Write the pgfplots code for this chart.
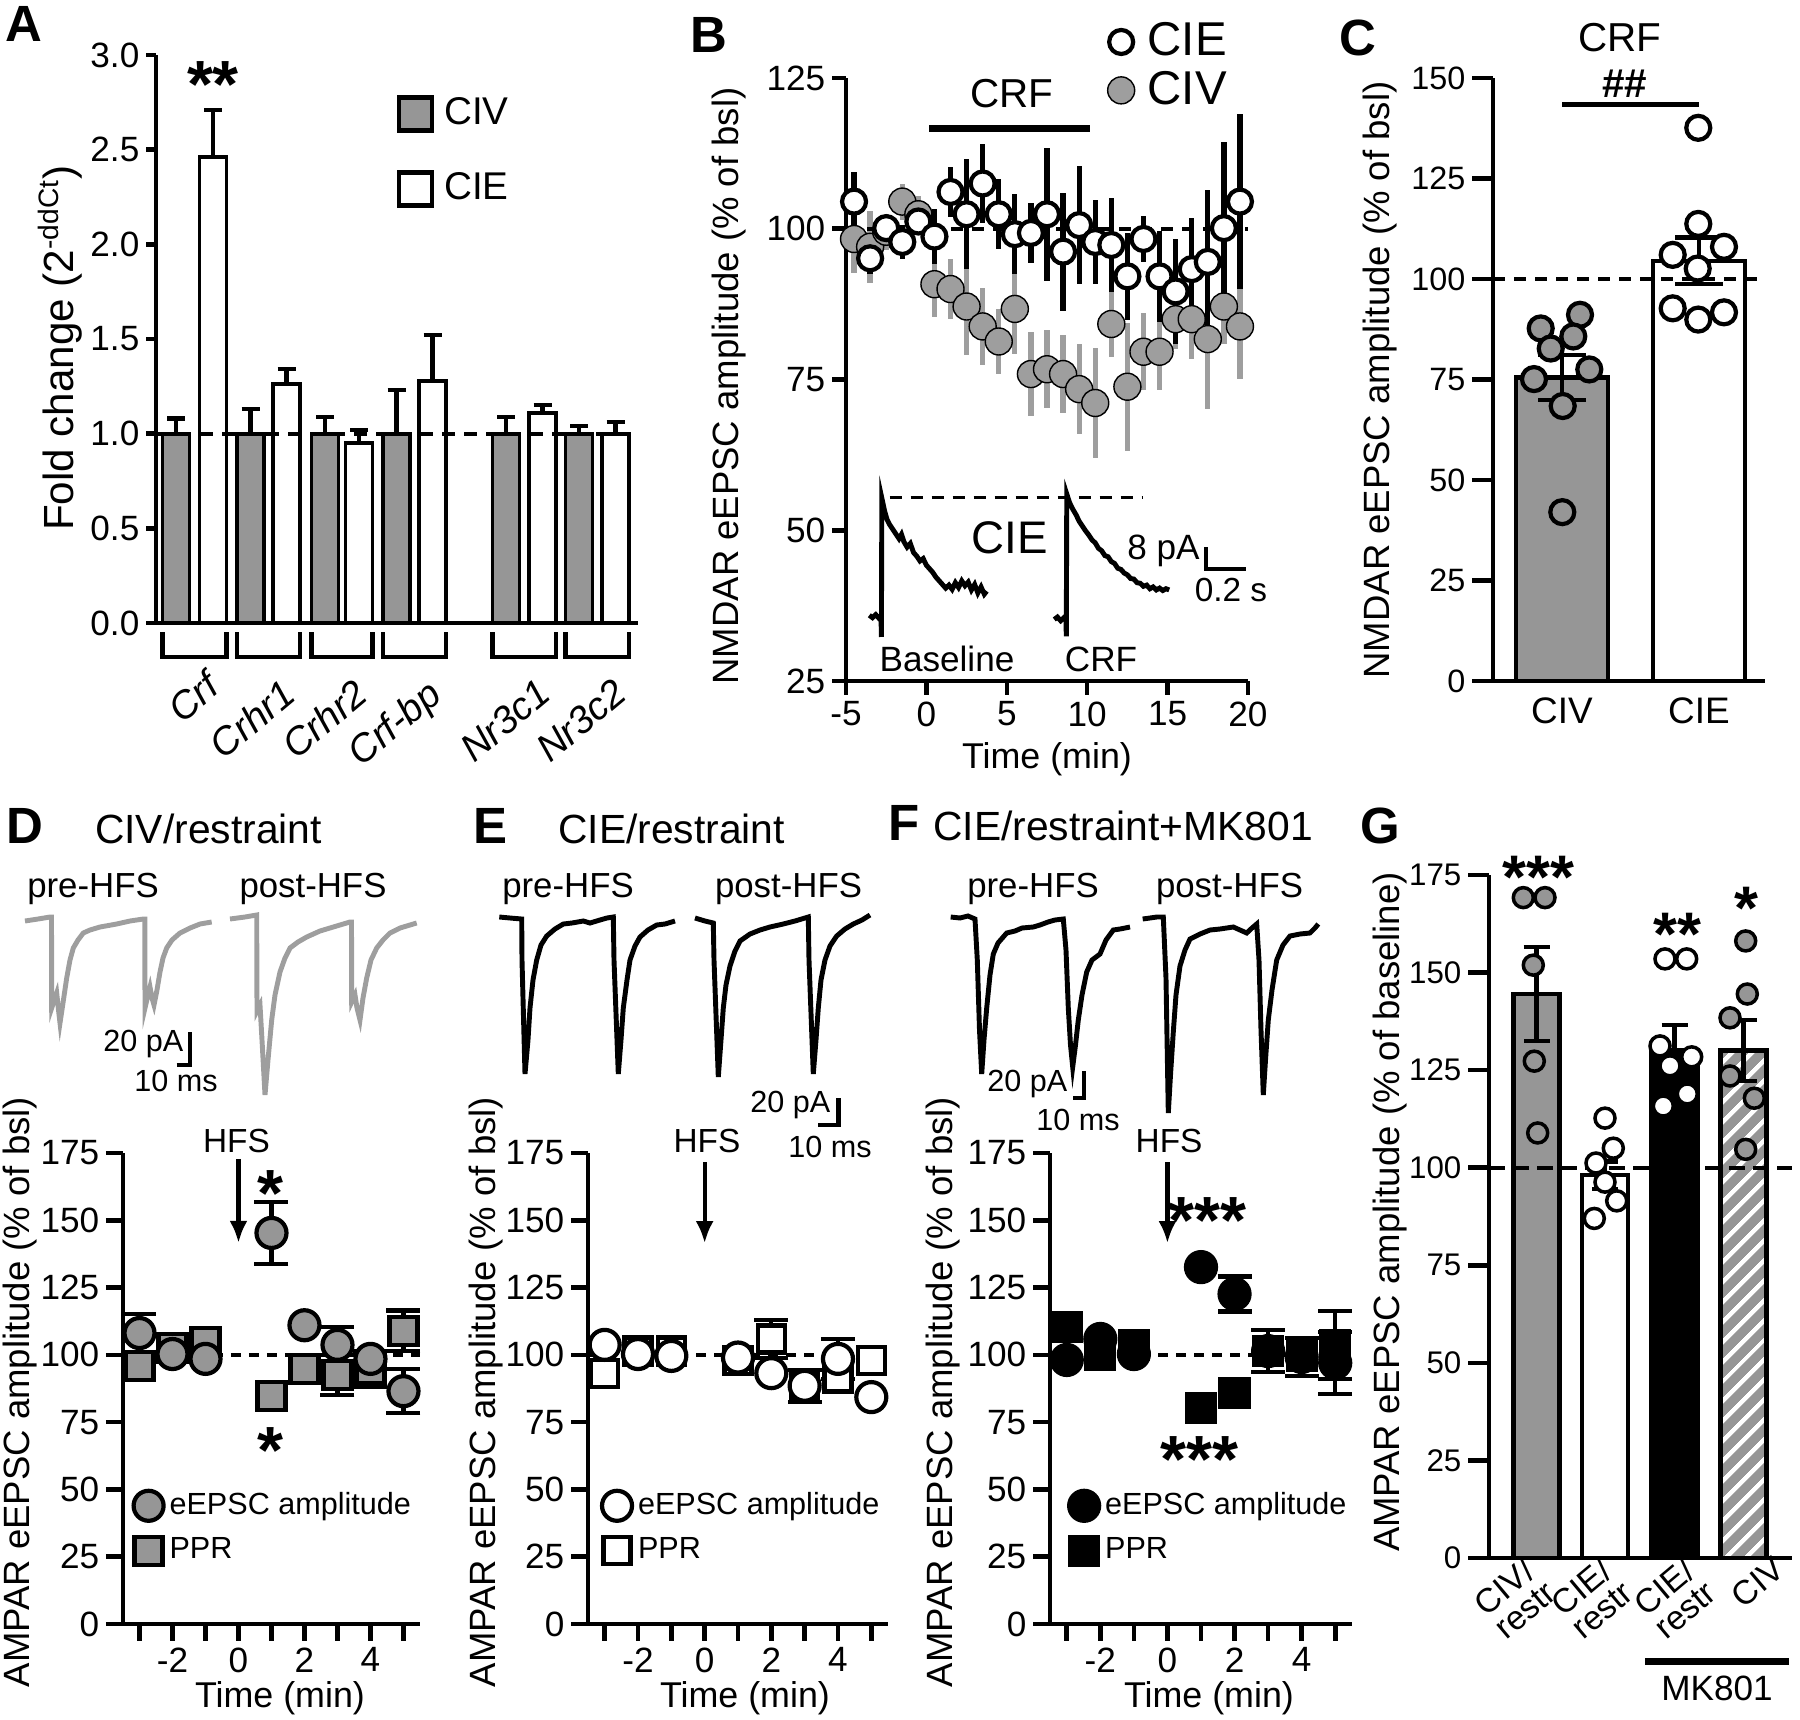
\documentclass[border=0pt]{standalone}
\usepackage{pgfplots}
\pgfplotsset{compat=1.18}
\usepackage{fontspec}
\setmainfont{Liberation Sans}
\usetikzlibrary{patterns.meta,arrows.meta}

\definecolor{bargray}{RGB}{150,150,150}
\definecolor{civgray}{RGB}{158,158,158}
\newcommand\fs[1]{\fontsize{#1}{#1}\selectfont}

\tikzset{star/.style={font=\bfseries\fs{19}, yshift=-4pt, inner sep=0pt}}
\pgfplotsset{
  panel/.style={
    scale only axis, clip=false, anchor=south west,
    axis lines*=left,
    axis line style={line width=1.3pt},
    tick style={black, line width=1.3pt},
    tick align=outside,
    major tick length=1.6mm,
    tick label style={font=\fs{10}, inner sep=0.6mm},
    /pgf/number format/assume math mode=true,
    legend cell align=left,
  },
  err/.style={draw=none, forget plot,
    error bars/y dir=both, error bars/y explicit,
    error bars/error bar style={draw=black, solid, line width=1.2pt},
    error bars/error mark options={rotate=90, draw=black, solid, line width=1.2pt, mark size=#1}},
  dotlegend/.style={legend image code/.code={\draw[##1] plot coordinates {(0cm,0cm)};}},
}

\begin{document}
\begin{tikzpicture}
\path[use as bounding box] (0,0) rectangle (18cm,17.2cm);

% ---------------- A: qPCR fold change
\begin{axis}[panel, at={(1.56cm,10.97cm)}, width=4.82cm, height=5.68cm,
  xmin=156, xmax=638, ymin=0, ymax=3, xtick=\empty,
  ytick={0,0.5,...,3}, yticklabels={0.0,0.5,1.0,1.5,2.0,2.5,3.0},
  major tick length=1.0mm,
  legend style={at={(axis cs:396,2.83)}, anchor=north west, draw=none, fill=none,
    font=\fs{11}, inner sep=0pt, row sep=2.25mm, nodes={inner sep=1mm}},
  legend image code/.code={\draw[#1, line width=1.3pt] (0cm,-0.165cm) rectangle (0.33cm,0.165cm);},
]
\addplot[ybar, bar width=27, bar shift=0pt, fill=bargray, draw=black, line width=1.1pt]
  table[x=x, y=y] {
x y
176 1.0
250.5 1.0
325 1.0
396.5 1.0
506 1.0
579 1.0
};
\addlegendentry{CIV}
\addplot[ybar, bar width=27, bar shift=0pt, fill=white, draw=black, line width=1.1pt]
  table[x=x, y=y] {
x y
213 2.46
286.5 1.26
359 0.95
432.5 1.28
542.5 1.11
615.5 1.0
};
\addlegendentry{CIE}
\addplot[err=0.9mm, error bars/y dir=plus] table[x=x, y=y, y error=e] {
x y e
176 1.0 0.08
250.5 1.0 0.13
325 1.0 0.09
396.5 1.0 0.23
506 1.0 0.09
579 1.0 0.04
213 2.46 0.25
286.5 1.26 0.08
359 0.95 0.07
432.5 1.28 0.24
542.5 1.11 0.04
615.5 1.0 0.06
};
\addplot[black, line width=1.1pt, dash pattern=on 1.3mm off 0.9mm, forget plot]
  coordinates {(156,1) (638,1)};
% group brackets
\addplot[black, line width=1.2pt, forget plot] coordinates {(162.5,-0.05) (162.5,-0.178) (226.5,-0.178) (226.5,-0.05)};
\addplot[black, line width=1.2pt, forget plot] coordinates {(237,-0.05) (237,-0.178) (300,-0.178) (300,-0.05)};
\addplot[black, line width=1.2pt, forget plot] coordinates {(311.5,-0.05) (311.5,-0.178) (372.5,-0.178) (372.5,-0.05)};
\addplot[black, line width=1.2pt, forget plot] coordinates {(383,-0.05) (383,-0.178) (446,-0.178) (446,-0.05)};
\addplot[black, line width=1.2pt, forget plot] coordinates {(492.5,-0.05) (492.5,-0.178) (556,-0.178) (556,-0.05)};
\addplot[black, line width=1.2pt, forget plot] coordinates {(565.5,-0.05) (565.5,-0.178) (629,-0.178) (629,-0.05)};
\begin{scope}[every node/.style={rotate=40, anchor=north east, inner sep=0pt, font=\itshape\fs{11}}]
\node at (axis cs:204,-0.24) {Crf};
\node at (axis cs:280,-0.28) {Crhr1};
\node at (axis cs:352.5,-0.28) {Crhr2};
\node at (axis cs:426,-0.28) {Crf-bp};
\node at (axis cs:536,-0.28) {Nr3c1};
\node at (axis cs:612,-0.28) {Nr3c2};
\end{scope}
\node[star] at (axis cs:213,2.92) {**};
\end{axis}

% ---------------- B: NMDAR time course
\begin{axis}[panel, at={(8.46cm,10.39cm)}, width=4.02cm, height=6.03cm,
  xmin=-5, xmax=20, ymin=25, ymax=125,
  xtick={-5,0,...,20}, xticklabels={-5,0,5,10,15,20}, ytick={25,50,...,125},
  major tick length=1.4mm,
  dotlegend, reverse legend,
  legend style={at={(axis cs:11.23,135.6)}, anchor=north west, draw=none, fill=none,
    font=\fs{13.5}, inner sep=0pt, row sep=-0.6mm, nodes={inner sep=0.8mm},
    /tikz/every odd column/.append style={column sep=0.5mm}},
]
\addplot[draw=none, forget plot, error bars/y dir=both, error bars/y explicit,
  error bars/error mark=none, error bars/error bar style={draw=civgray, line width=1.5pt}]
  table[x=t, y=v, y error=e] {
t v e
-4.5 98.3 5.6
-3.5 97.0 6.0
-2.5 99.5 3.0
-1.5 104.5 3.0
-0.5 102.4 3.0
0.5 90.8 5.4
1.5 90.0 5.0
2.5 87.1 8.0
3.5 83.8 6.4
4.5 81.3 5.4
5.5 86.7 7.5
6.5 75.9 6.9
7.5 76.7 6.5
8.5 75.9 6.4
9.5 73.4 7.5
10.5 71.1 9.1
11.5 84.2 5.4
12.5 73.8 10.6
13.5 79.6 6.4
14.5 79.6 6.4
15.5 85.0 5.0
16.5 85.0 6.6
17.5 81.7 11.6
18.5 87.1 6.2
19.5 83.8 8.7
};
\addplot[only marks, mark=*, mark size=1.35mm, mark options={draw=none, fill=civgray}]
  table[x=t, y=v] {
t v
-4.5 98.3
-3.5 97.0
-2.5 99.5
-1.5 104.5
-0.5 102.4
0.5 90.8
1.5 90.0
2.5 87.1
3.5 83.8
4.5 81.3
5.5 86.7
6.5 75.9
7.5 76.7
8.5 75.9
9.5 73.4
10.5 71.1
11.5 84.2
12.5 73.8
13.5 79.6
14.5 79.6
15.5 85.0
16.5 85.0
17.5 81.7
18.5 87.1
19.5 83.8
};
\addlegendentry{CIV}
\addplot[black, line width=1.1pt, dash pattern=on 1.2mm off 0.9mm, forget plot]
  coordinates {(-5,100) (20,100)};
\addplot[draw=none, forget plot, error bars/y dir=both, error bars/y explicit,
  error bars/error mark=none, error bars/error bar style={draw=black, line width=1.5pt}]
  table[x=t, y=v, y error=e] {
t v e
-4.5 104.5 4.9
-3.5 95.1 2.6
-2.5 100.1 1.5
-1.5 97.8 2.8
-0.5 101.2 2.0
0.5 98.7 4.6
1.5 106.1 4.2
2.5 102.4 9.1
3.5 107.5 6.5
4.5 102.4 5.8
5.5 99.1 6.6
6.5 99.3 5.0
7.5 102.4 11.0
8.5 96.2 9.8
9.5 100.6 9.8
10.5 97.8 7.0
11.5 97.3 7.8
12.5 92.1 7.2
13.5 98.3 3.8
14.5 92.1 7.6
15.5 89.6 8.7
16.5 93.3 8.5
17.5 94.5 12.0
18.5 100.1 14.3
19.5 104.5 14.5
};
\addplot[only marks, mark=*, mark size=1.2mm, mark options={fill=white, draw=black, line width=1.2pt}]
  table[x=t, y=v] {
t v
-4.5 104.5
-3.5 95.1
-2.5 100.1
-1.5 97.8
-0.5 101.2
0.5 98.7
1.5 106.1
2.5 102.4
3.5 107.5
4.5 102.4
5.5 99.1
6.5 99.3
7.5 102.4
8.5 96.2
9.5 100.6
10.5 97.8
11.5 97.3
12.5 92.1
13.5 98.3
14.5 92.1
15.5 89.6
16.5 93.3
17.5 94.5
18.5 100.1
19.5 104.5
};
\addlegendentry{CIE}
% CRF application bar
\addplot[black, line width=1.8pt, forget plot] coordinates {(0.18,116.6) (10.15,116.6)};
% inset traces (CIE, baseline and CRF)
\addplot[black, line width=1pt, dash pattern=on 1.2mm off 0.9mm, forget plot]
  coordinates {(-2.28,55.4) (13.5,55.4)};
\addplot[black, line width=1.4pt, forget plot] coordinates {
(-3.55,35.9) (-3.35,35.5) (-3.15,36.0) (-2.95,35.4) (-2.82,35.6) (-2.8,32.3) (-2.77,55.3)
(-2.6,53.2) (-2.45,51.8) (-2.3,51.0) (-2.1,50.2) (-1.9,49.4) (-1.7,48.6) (-1.55,49.3)
(-1.4,48.1) (-1.2,47.2) (-1.0,47.8) (-0.8,46.3) (-0.6,45.7) (-0.4,44.9) (-0.2,45.3)
(0,44.2) (0.2,43.6) (0.4,43.0) (0.6,42.2) (0.8,41.6) (1.0,41.0) (1.2,40.4) (1.4,40.9)
(1.6,40.2) (1.8,41.3) (2.0,40.5) (2.2,41.6) (2.4,40.8) (2.6,41.4) (2.8,40.1) (3.0,41.0)
(3.2,39.6) (3.4,40.6) (3.6,39.4) (3.75,39.9)};
\addplot[black, line width=1.4pt, forget plot] coordinates {
(7.95,35.2) (8.15,35.6) (8.35,35.0) (8.55,35.5) (8.68,35.3) (8.7,32.4) (8.73,56.0)
(8.9,54.6) (9.1,53.5) (9.3,52.6) (9.5,51.5) (9.7,50.7) (9.9,49.9) (10.1,49.2) (10.3,48.4)
(10.5,47.9) (10.7,47.0) (10.9,46.6) (11.1,45.8) (11.3,45.6) (11.5,44.8) (11.7,44.5)
(11.9,43.7) (12.1,43.5) (12.3,42.9) (12.5,42.6) (12.7,42.0) (12.9,41.9) (13.1,41.3)
(13.3,41.2) (13.5,40.7) (13.7,40.9) (13.9,40.3) (14.1,40.6) (14.3,40.1) (14.5,40.4)
(14.7,40.0) (14.9,40.3) (15.1,40.1)};
\addplot[black, line width=1.3pt, forget plot] coordinates {(17.4,47.2) (17.4,43.6) (19.9,43.6)};
\end{axis}

% ---------------- C: bar + scatter
\begin{axis}[panel, at={(14.93cm,10.39cm)}, width=2.72cm, height=6.03cm,
  xmin=1493, xmax=1765, ymin=0, ymax=150, ytick={0,25,...,150},
  xtick={1562,1699}, xticklabels={CIV,CIE}, xtick style={draw=none},
  y tick label style={font=\fs{9.2}},
  x tick label style={font=\fs{10.5}, yshift=1.1mm},
  major tick length=2.1mm,
]
\addplot[ybar, bar width=92, bar shift=0pt, fill=bargray, draw=black, line width=1.3pt]
  coordinates {(1562,75.5)};
\addplot[ybar, bar width=92, bar shift=0pt, fill=white, draw=black, line width=1.3pt]
  coordinates {(1699,104.5)};
\addplot[black, line width=1.1pt, dash pattern=on 1.2mm off 0.9mm, forget plot]
  coordinates {(1493,100) (1765,100)};
\addplot[only marks, mark=*, mark size=1.2mm, mark options={fill=bargray, draw=black, line width=1.2pt}]
  table[x=x, y=y] {
x y
1540.7 87.7
1580 91.1
1573.3 85.7
1550.7 82.7
1534 75.1
1589.3 77.5
1562.7 68.4
1562.3 42.0
};
\addplot[only marks, mark=*, mark size=1.2mm, mark options={fill=white, draw=black, line width=1.2pt}]
  table[x=x, y=y] {
x y
1698.3 137.6
1698.3 113.7
1672.7 106.0
1724 108.0
1697.7 102.6
1672.7 92.7
1698.3 89.9
1724 91.7
};
\addplot[err=2.4mm] table[x=x, y=y, y error=e] {
x y e
1562 75.5 5.6
1699 104.5 5.8
};
\addplot[black, line width=1.3pt, forget plot] coordinates {(1562,143.4) (1699,143.4)};
\node[font=\bfseries\fs{11.5}] at (axis cs:1625,148.5) {\#\#};
\end{axis}

% ---------------- D: CIV/restraint
\begin{axis}[panel, at={(1.23cm,0.96cm)}, width=2.97cm, height=4.71cm,
  xmin=-3.5, xmax=5.5, ymin=0, ymax=175,
  xtick={-3,...,5}, xticklabels={,-2,,0,,2,,4,}, ytick={0,25,...,175},
  major tick length=1.7mm,
  dotlegend, reverse legend,
  legend style={at={(axis cs:-3.2,51.5)}, anchor=north west, draw=none, fill=none,
    font=\fs{8.7}, inner sep=0pt, row sep=0.6mm, nodes={inner sep=0.6mm}},
]
\addplot[black, line width=1pt, dash pattern=on 1mm off 0.8mm, forget plot]
  coordinates {(-3.5,100) (5.5,100)};
\addplot[err=1.7mm] table[x=t, y=v, y error=e] {
t v e
-3 108.1 7.1
1 145.3 11.5
3 103.7 6.6
5 86.5 8.1
3 92.5 7.3
4 94.7 6.7
5 109.0 7.5
};
\addplot[only marks, mark=square*, mark size=1.4mm, mark options={fill=bargray, draw=black, line width=1.2pt}]
  table[x=t, y=v] {
t v
-3 95.9
-2 102.5
-1 104.8
1 84.7
2 94.7
3 92.5
4 94.7
5 109.0
};
\addlegendentry{PPR}
\addplot[only marks, mark=*, mark size=1.5mm, mark options={fill=bargray, draw=black, line width=1.2pt}]
  table[x=t, y=v] {
t v
-3 108.1
-2 100.3
-1 98.5
1 145.3
2 111.0
3 103.7
4 98.5
5 86.5
};
\addlegendentry{eEPSC amplitude}
\node[font=\fs{9.5}, anchor=base] at (axis cs:-0.06,175) {HFS};
\draw[line width=1.2pt, -{Latex[length=2.2mm, width=1.8mm]}] (axis cs:0,172.8) -- (axis cs:0,141.6);
\node[star] at (axis cs:0.98,165) {*};
\node[star] at (axis cs:0.98,69.5) {*};
\end{axis}

% ---------------- E: CIE/restraint
\begin{axis}[panel, at={(5.88cm,0.96cm)}, width=3.0cm, height=4.71cm,
  xmin=-3.5, xmax=5.5, ymin=0, ymax=175,
  xtick={-3,...,5}, xticklabels={,-2,,0,,2,,4,}, ytick={0,25,...,175},
  major tick length=1.7mm,
  dotlegend, reverse legend,
  legend style={at={(axis cs:-3.1,51.5)}, anchor=north west, draw=none, fill=none,
    font=\fs{8.7}, inner sep=0pt, row sep=0.6mm, nodes={inner sep=0.6mm}},
]
\addplot[black, line width=1pt, dash pattern=on 1mm off 0.8mm, forget plot]
  coordinates {(-3.5,100) (5.5,100)};
\addplot[err=1.7mm] table[x=t, y=v, y error=e] {
t v e
3 88.5 6.0
4 98.5 7.4
2 105.9 7.1
};
\addplot[only marks, mark=square*, mark size=1.35mm, mark options={fill=white, draw=black, line width=1.2pt}]
  table[x=t, y=v] {
t v
-3 93.0
-2 101.4
-1 101.4
1 98.0
2 105.9
3 89.0
4 91.4
5 98.0
};
\addlegendentry{PPR}
\addplot[only marks, mark=*, mark size=1.5mm, mark options={fill=white, draw=black, line width=1.2pt}]
  table[x=t, y=v] {
t v
-3 103.7
-2 100.3
-1 99.6
1 99.0
2 93.2
3 88.5
4 98.5
5 84.3
};
\addlegendentry{eEPSC amplitude}
\node[font=\fs{9.5}, anchor=base] at (axis cs:0.07,175) {HFS};
\draw[line width=1.2pt, -{Latex[length=2.2mm, width=1.8mm]}] (axis cs:0,171.6) -- (axis cs:0,141.5);
\end{axis}

% ---------------- F: CIE/restraint+MK801
\begin{axis}[panel, at={(10.5cm,0.96cm)}, width=3.02cm, height=4.71cm,
  xmin=-3.5, xmax=5.5, ymin=0, ymax=175,
  xtick={-3,...,5}, xticklabels={,-2,,0,,2,,4,}, ytick={0,25,...,175},
  major tick length=1.7mm,
  dotlegend, reverse legend,
  legend style={at={(axis cs:-2.95,51.5)}, anchor=north west, draw=none, fill=none,
    font=\fs{8.7}, inner sep=0pt, row sep=0.6mm, nodes={inner sep=0.6mm}},
]
\addplot[black, line width=1pt, dash pattern=on 1mm off 0.8mm, forget plot]
  coordinates {(-3.5,100) (5.5,100)};
\addplot[err=1.7mm] table[x=t, y=v, y error=e] {
t v e
2 122.6 6.5
3 101.4 7.8
4 99.2 7.0
5 97.0 11.5
5 103.7 12.7
};
\addplot[only marks, mark=square*, mark size=1.4mm, mark options={fill=black, draw=black, line width=1.2pt}]
  table[x=t, y=v] {
t v
-3 110.3
-2 99.9
-1 103.7
1 80.3
2 85.8
3 101.4
4 99.6
5 103.7
};
\addlegendentry{PPR}
\addplot[only marks, mark=*, mark size=1.5mm, mark options={fill=black, draw=black, line width=1.2pt}]
  table[x=t, y=v] {
t v
-3 98.1
-2 105.9
-1 100.3
1 132.6
2 122.6
3 101.4
4 99.2
5 97.0
};
\addlegendentry{eEPSC amplitude}
\node[font=\fs{9.5}, anchor=base] at (axis cs:0.05,175) {HFS};
\draw[line width=1.2pt, -{Latex[length=2.2mm, width=1.8mm]}] (axis cs:0,171.6) -- (axis cs:0,141.5);
\node[star] at (axis cs:1.2,155) {***};
\node[star] at (axis cs:0.95,66.4) {***};
\end{axis}

% ---------------- G: summary bars
\begin{axis}[panel, at={(14.89cm,1.62cm)}, width=3.03cm, height=6.83cm,
  xmin=1489, xmax=1792, ymin=0, ymax=175, ytick={0,25,...,175}, xtick=\empty,
  y tick label style={font=\fs{8.9}},
  major tick length=2.1mm,
]
\addplot[ybar, bar width=46, bar shift=0pt, fill=bargray, draw=black, line width=1.3pt]
  coordinates {(1536.5,144.5)};
\addplot[ybar, bar width=46, bar shift=0pt, fill=white, draw=black, line width=1.3pt]
  coordinates {(1605,98.1)};
\addplot[ybar, bar width=46, bar shift=0pt, fill=black, draw=black, line width=1.3pt]
  coordinates {(1674.5,130)};
\addplot[ybar, bar width=46, bar shift=0pt, fill=bargray, draw=black, line width=1.3pt,
  postaction={pattern={Lines[angle=45, distance=1.4mm, line width=0.45mm]}, pattern color=white}]
  coordinates {(1743.5,130.1)};
\addplot[black, line width=1.1pt, dash pattern=on 1.6mm off 0.8mm, forget plot]
  coordinates {(1489,100) (1792,100)};
\addplot[only marks, mark=*, mark size=1.0mm, mark options={fill=bargray, draw=black, line width=1pt}]
  table[x=x, y=y] {
x y
1523.3 169.2
1545 169.2
1533.3 151.9
1534.3 127.3
1537.7 108.9
1745.7 158.1
1747.3 144.5
1730 138.4
1730 123.5
1754.3 117.8
1745.7 104.7
};
\addplot[only marks, mark=*, mark size=1.0mm, mark options={fill=white, draw=black, line width=1pt}]
  table[x=x, y=y] {
x y
1605 112.7
1613.3 105.0
1596 101.2
1605 96.3
1616.7 91.5
1594.3 87.0
1665 153.5
1686.7 153.5
1660 131.2
1691.7 128.4
1670 126.1
1663.3 115.8
1687.3 118.9
};
\addplot[err=1.3mm] table[x=x, y=y, y error=e] {
x y e
1536.5 144.5 12.0
1605 98.1 3.5
1674.5 130 6.6
1743.5 130.1 7.8
};
\begin{scope}[every node/.style={star, font=\bfseries\fs{17.5}}]
\node at (axis cs:1538.5,178) {***};
\node at (axis cs:1677.5,163.5) {**};
\node at (axis cs:1746,170) {*};
\end{scope}
\begin{scope}[every node/.style={rotate=40, anchor=north east, inner sep=0pt, align=left,
  font=\fontsize{9.6}{8.8}\selectfont}]
\node at (axis cs:1523,1.0) {CIV/\\restr};
\node at (axis cs:1600,1.0) {CIE/\\restr};
\node at (axis cs:1683,1.0) {CIE/\\restr};
\node at (axis cs:1772,1.0) {CIV};
\end{scope}
\addplot[black, line width=2pt, forget plot] coordinates {(1645,-26.6) (1789,-26.6)};
\node[font=\fs{10}] at (axis cs:1717,-33.3) {MK801};
\end{axis}

% ---------------- overlay: traces, titles and labels (full-size pixel frame)
\begin{axis}[at={(0cm,0cm)}, anchor=south west, scale only axis, width=18cm, height=17.2cm,
  xmin=0, xmax=1800, ymin=0, ymax=1720, y dir=reverse, hide axis, clip=false]
% D traces (grey)
\addplot[civgray, line width=1.4pt] coordinates {
(25,921) (38,919) (50,917) (51.5,917) (51.7,1008) (55,998) (56.7,993) (58.5,1010) (60,1023)
(63,1003) (66.7,978) (70,960) (73.3,948) (78,940) (83.3,933) (90,930) (100,927) (116.7,924)
(130,921) (143.3,919) (144.8,919) (145,1008) (148,995) (150,987) (152,998) (154,1005)
(157,990) (160,972) (163,958) (166.7,948) (172,940) (180,933) (190,928) (200,924) (211.7,922)};
\addplot[civgray, line width=1.4pt] coordinates {
(230,919) (245,917) (256.7,915) (257,1011) (260,1005) (262,1040) (265,1095) (268,1060)
(271.7,1020) (275,995) (280,972) (285,958) (290,948) (298,942) (306.7,937) (320,931)
(333.3,927) (350,922) (351.5,922) (351.7,1002) (355,995) (357,1008) (360,1020) (363,998)
(366.7,978) (371,960) (376.7,948) (383,940) (390,933) (400,928) (416.7,923)};
% E traces
\addplot[black, line width=1.4pt] coordinates {
(499.3,917) (510,918) (521.7,919) (522,960) (525,1074) (528,1040) (530,1008) (533,980)
(536.7,960) (541,945) (546.7,936) (555,929) (563.3,924) (572,923) (583.3,921) (590,923)
(600,920) (607,918) (613.3,917) (614,960) (618.3,1074) (621,1040) (623.3,1008) (627,980)
(630,960) (635,946) (640,937) (648,930) (656.7,925) (665,924) (675,921)};
\addplot[black, line width=1.4pt] coordinates {
(695,918) (705,921) (713.3,923) (714,960) (718.3,1077) (721,1040) (723.3,1008) (726,985)
(730,966) (735,951) (740,941) (750,934) (760,930) (770,927) (783.3,924) (795,921)
(808.3,917) (809,960) (813.3,1074) (816,1040) (818.3,1008) (821,980) (825,960) (830,946)
(836.7,936) (845,929) (853.3,924) (862,920) (870,915)};
% F traces
\addplot[black, line width=1.4pt] coordinates {
(950.7,917) (960,918) (968,916) (975,919) (977.3,960) (979.5,1030) (981.7,1074) (984,1040)
(986.7,1008) (990,975) (993.3,954) (998,943) (1006.7,933) (1015,931) (1022,928) (1033.3,927)
(1040,925) (1048,922) (1055,920) (1063.3,919) (1066,950) (1068.3,1008) (1070.5,1045)
(1072.7,1067) (1075.5,1045) (1078.3,1020) (1082,995) (1086.7,972) (1092,960) (1100,954)
(1106,940) (1113.3,930) (1120,929) (1130,927)};
\addplot[black, line width=1.4pt] coordinates {
(1142.7,919) (1150,918) (1157,917) (1163.3,917) (1166,978) (1168.3,1113) (1170.5,1075)
(1173.3,1032) (1176,995) (1180,966) (1185,950) (1190,939) (1200,934) (1210,930) (1220,929)
(1233.3,927) (1240,930) (1246.7,933) (1252,928) (1256.7,924) (1259,960) (1261,1030)
(1263.3,1095) (1265.5,1060) (1268.3,1020) (1272,990) (1276.7,960) (1283,945) (1290,936)
(1300,934) (1310,933) (1315,928) (1318.3,924)};
% scale bars
\addplot[black, line width=1.3pt] coordinates {(176.7,1065) (190,1065) (190,1032)};
\addplot[black, line width=1.3pt] coordinates {(818.3,1125) (838.3,1125) (838.3,1098)};
\addplot[black, line width=1.3pt] coordinates {(1073.3,1098) (1084,1098) (1084,1071)};
\begin{scope}[every node/.style={font=\fs{8.7}, inner sep=0pt}]
\node[anchor=base east] at (axis cs:184,1051) {20 pA};
\node[anchor=base] at (axis cs:176,1091) {10 ms};
\node[anchor=base east] at (axis cs:831,1112) {20 pA};
\node[anchor=base] at (axis cs:830,1157) {10 ms};
\node[anchor=base east] at (axis cs:1068,1091) {20 pA};
\node[anchor=base] at (axis cs:1078,1130) {10 ms};
\end{scope}
% B inset texts
\node[font=\fs{13}, anchor=base] at (axis cs:1010,553) {CIE};
\node[font=\fs{10}, anchor=base] at (axis cs:947,671) {Baseline};
\node[font=\fs{10}, anchor=base] at (axis cs:1101,671) {CRF};
\node[font=\fs{10}, anchor=base east] at (axis cs:1212,559) {8 pA};
\node[font=\fs{9.5}, anchor=base] at (axis cs:1231,601) {0.2 s};
\node[font=\fs{11.5}, anchor=base] at (axis cs:1012,107) {CRF};
\node[font=\fs{11.5}, anchor=base] at (axis cs:1620,51) {CRF};
% panel letters
\begin{scope}[every node/.style={font=\bfseries\fs{14.5}, anchor=base}]
\node at (axis cs:24,41) {A};
\node at (axis cs:709,52) {B};
\node at (axis cs:1358,55) {C};
\node at (axis cs:25,843) {D};
\node at (axis cs:490,843) {E};
\node at (axis cs:904,840) {F};
\node at (axis cs:1380,843) {G};
\end{scope}
% panel titles
\begin{scope}[every node/.style={font=\fs{11.6}, anchor=base}]
\node at (axis cs:208.5,843) {CIV/restraint};
\node at (axis cs:671.7,843) {CIE/restraint};
\node at (axis cs:1123,840) {CIE/restraint+MK801};
\end{scope}
\begin{scope}[every node/.style={font=\fs{9.9}, anchor=base}]
\node at (axis cs:93,897) {pre-HFS};
\node at (axis cs:313,897) {post-HFS};
\node at (axis cs:568,897) {pre-HFS};
\node at (axis cs:788.5,897) {post-HFS};
\node at (axis cs:1033,897) {pre-HFS};
\node at (axis cs:1229.5,897) {post-HFS};
\end{scope}
% axis titles
\node[font=\fs{12}, rotate=90] at (axis cs:60,348) {Fold change (2\textsuperscript{-ddCt})};
\begin{scope}[every node/.style={font=\fs{10.4}, rotate=90}]
\node at (axis cs:729,386) {NMDAR eEPSC amplitude (\% of bsl)};
\node at (axis cs:1380,380) {NMDAR eEPSC amplitude (\% of bsl)};
\node at (axis cs:20,1392) {AMPAR eEPSC amplitude (\% of bsl)};
\node at (axis cs:486,1392) {AMPAR eEPSC amplitude (\% of bsl)};
\node at (axis cs:943,1392) {AMPAR eEPSC amplitude (\% of bsl)};
\node at (axis cs:1390,1212) {AMPAR eEPSC amplitude (\% of baseline)};
\end{scope}
\begin{scope}[every node/.style={font=\fs{10.2}, anchor=base}]
\node at (axis cs:1047,768) {Time (min)};
\node at (axis cs:280,1707) {Time (min)};
\node at (axis cs:745,1707) {Time (min)};
\node at (axis cs:1209,1707) {Time (min)};
\end{scope}
\end{axis}
\end{tikzpicture}
\end{document}
